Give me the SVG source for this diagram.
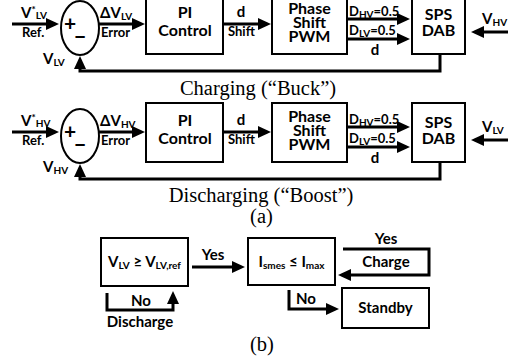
<svg xmlns="http://www.w3.org/2000/svg" width="517" height="360" viewBox="0 0 517 360">
<style>
.b{fill:#fff;stroke:#000;stroke-width:2}
.w{fill:none;stroke:#000;stroke-width:3}
.t{font-family:Lato,"Liberation Sans",sans-serif;font-weight:bold;font-size:15px;fill:#000}
.m{text-anchor:middle}
.k{font-size:16px}
.s{font-size:10px}
.l{font-size:13px}
.p{font-size:21px}
.c{font-family:"Liberation Serif","Times New Roman",serif;font-size:20.5px;fill:#000;text-anchor:middle}
</style>
<defs>
<marker id="ah" markerUnits="userSpaceOnUse" markerWidth="14" markerHeight="12" refX="4" refY="6" orient="auto">
<path d="M0,0 L13,6 L0,12 z" fill="#000"/>
</marker>
</defs>

<!-- Row 1: Charging -->
<g id="ref1"><text class="t" x="21" y="18">V<tspan class="s" dy="-5">*</tspan><tspan class="s" dy="6">LV</tspan></text><text class="t l" x="22" y="37">Ref.</text></g>
<g id="sum1"><ellipse class="b" cx="80" cy="28" rx="19" ry="27"/><text class="t m p" x="70" y="31">+</text><text class="t m p" x="80" y="44">−</text></g>
<g id="err1"><text class="t" x="100" y="18">ΔV<tspan class="s" dy="2">LV</tspan></text><text class="t l" x="101" y="37">Error</text></g>
<g id="pi1"><rect class="b" x="146" y="-5" width="77" height="59"/><text class="t m k" x="185" y="18">PI</text><text class="t m k" x="185" y="36">Control</text></g>
<g id="shift1"><text class="t m" x="241" y="17">d</text><text class="t l" x="228" y="36">Shift</text></g>
<g id="pwm1"><rect class="b" x="272" y="-5" width="75" height="59"/><text class="t m k" x="309.5" y="14">Phase</text><text class="t m k" x="309.5" y="28">Shift</text><text class="t m k" x="309.5" y="42">PWM</text></g>
<g id="duty1"><text class="t l" x="349" y="16">D<tspan class="s" dy="2">HV</tspan><tspan dy="-2">=0.5</tspan></text><text class="t l" x="349" y="35">D<tspan class="s" dy="2">LV</tspan><tspan dy="-2">=0.5</tspan></text><text class="t m" x="375" y="55">d</text></g>
<g id="dab1"><rect class="b" x="412" y="-5" width="53" height="59"/><text class="t m k" x="438.5" y="20">SPS</text><text class="t m k" x="438.5" y="36">DAB</text></g>
<g id="vin1"><text class="t" x="482" y="24">V<tspan class="s" dy="2">HV</tspan></text></g>
<g id="fb1"><text class="t" x="43" y="64">V<tspan class="s" dy="2">LV</tspan></text></g>
<text class="c" x="258" y="95">Charging (“Buck”)</text>

<!-- Row 2: Discharging -->
<g id="ref2"><text class="t" x="21" y="126">V<tspan class="s" dy="-5">*</tspan><tspan class="s" dy="6">HV</tspan></text><text class="t l" x="22" y="145">Ref.</text></g>
<g id="sum2"><ellipse class="b" cx="80" cy="136" rx="19" ry="27"/><text class="t m p" x="70" y="139">+</text><text class="t m p" x="80" y="152">−</text></g>
<g id="err2"><text class="t" x="100" y="126">ΔV<tspan class="s" dy="2">HV</tspan></text><text class="t l" x="101" y="145">Error</text></g>
<g id="pi2"><rect class="b" x="146" y="103" width="77" height="59"/><text class="t m k" x="185" y="126">PI</text><text class="t m k" x="185" y="144">Control</text></g>
<g id="shift2"><text class="t m" x="241" y="125">d</text><text class="t l" x="228" y="144">Shift</text></g>
<g id="pwm2"><rect class="b" x="272" y="103" width="75" height="59"/><text class="t m k" x="309.5" y="122">Phase</text><text class="t m k" x="309.5" y="136">Shift</text><text class="t m k" x="309.5" y="150">PWM</text></g>
<g id="duty2"><text class="t l" x="349" y="124">D<tspan class="s" dy="2">HV</tspan><tspan dy="-2">=0.5</tspan></text><text class="t l" x="349" y="143">D<tspan class="s" dy="2">LV</tspan><tspan dy="-2">=0.5</tspan></text><text class="t m" x="375" y="163">d</text></g>
<g id="dab2"><rect class="b" x="412" y="103" width="53" height="59"/><text class="t m k" x="438.5" y="128">SPS</text><text class="t m k" x="438.5" y="144">DAB</text></g>
<g id="vin2"><text class="t" x="482" y="132">V<tspan class="s" dy="2">LV</tspan></text></g>
<g id="fb2"><text class="t" x="43" y="172">V<tspan class="s" dy="2">HV</tspan></text></g>
<text class="c" x="261" y="202">Discharging (“Boost”)</text>
<text class="c" x="261.5" y="223">(a)</text>

<!-- (b) flowchart -->
<g id="cond1"><rect class="b" x="101" y="238" width="87" height="48"/><text class="t m" x="144.5" y="267">V<tspan class="s" dy="2">LV</tspan><tspan dy="-2"> ≥ V</tspan><tspan class="s" dy="2">LV,ref</tspan></text></g>
<g id="cond2"><rect class="b" x="248" y="238" width="87" height="47"/><text class="t m" x="291.5" y="267">I<tspan class="s" dy="2">smes</tspan><tspan dy="-2"> ≤ I</tspan><tspan class="s" dy="2">max</tspan></text></g>
<g id="standby"><rect class="b" x="342" y="288" width="87" height="40"/><text class="t m" x="385.5" y="313">Standby</text></g>
<g id="labels">
<text class="t m" x="213" y="260">Yes</text>
<text class="t m" x="386" y="244">Yes</text>
<text class="t m" x="386" y="267">Charge</text>
<text class="t" x="296" y="304">No</text>
<text class="t m" x="141" y="306">No</text>
<text class="t m" x="140" y="327">Discharge</text>
</g>
<text class="c" x="262" y="351">(b)</text>

<g id="connectors">
<line class="w" x1="12" y1="24" x2="50" y2="24" marker-end="url(#ah)"/>
<line class="w" x1="99" y1="24" x2="136" y2="24" marker-end="url(#ah)"/>
<line class="w" x1="223" y1="24" x2="262" y2="24" marker-end="url(#ah)"/>
<line class="w" x1="347" y1="19" x2="401" y2="19" marker-end="url(#ah)"/>
<line class="w" x1="347" y1="39" x2="401" y2="39" marker-end="url(#ah)"/>
<line class="w" x1="508" y1="32" x2="480" y2="32" marker-end="url(#ah)"/>
<polyline class="w" points="440,54 440,71 80,71 80,65" marker-end="url(#ah)"/>

<line class="w" x1="12" y1="132" x2="50" y2="132" marker-end="url(#ah)"/>
<line class="w" x1="99" y1="132" x2="136" y2="132" marker-end="url(#ah)"/>
<line class="w" x1="223" y1="132" x2="262" y2="132" marker-end="url(#ah)"/>
<line class="w" x1="347" y1="127" x2="401" y2="127" marker-end="url(#ah)"/>
<line class="w" x1="347" y1="147" x2="401" y2="147" marker-end="url(#ah)"/>
<line class="w" x1="508" y1="140" x2="480" y2="140" marker-end="url(#ah)"/>
<polyline class="w" points="440,162 440,179 80,179 80,173" marker-end="url(#ah)"/>

<line class="w" x1="192" y1="267" x2="236" y2="267" marker-end="url(#ah)"/>
<polyline class="w" points="343,249 429,249 429,275 347,275" marker-end="url(#ah)"/>
<polyline class="w" points="289,290 289,309 330,309" marker-end="url(#ah)"/>
<polyline class="w" points="107,293 107,310 173,310 173,300" marker-end="url(#ah)"/>
</g>
</svg>
